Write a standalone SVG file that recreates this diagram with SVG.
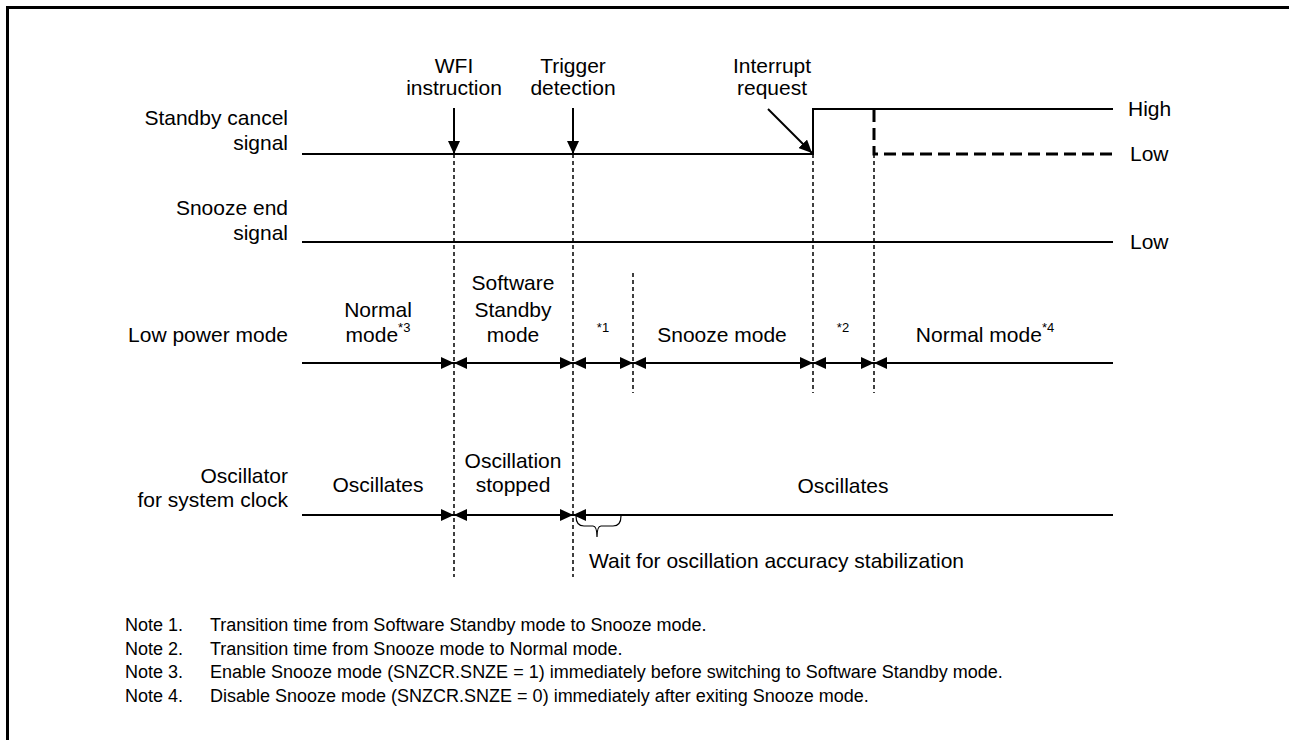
<svg xmlns="http://www.w3.org/2000/svg" width="1289" height="740" viewBox="0 0 1289 740">
<style>
text{font-family:"Liberation Sans",Arial,sans-serif;fill:#000}
.lbl{font-size:21px}
.mid{text-anchor:middle}
.end{text-anchor:end}
.sup{font-size:13px}
.note{font-size:18px}
.sig{stroke:#000;stroke-width:2;fill:none}
.thin{stroke:#000;stroke-width:1.5;stroke-dasharray:4 3;fill:none}
.thick{stroke:#000;stroke-width:3;stroke-dasharray:12 6;fill:none}
.arr{stroke:#000;stroke-width:2;fill:none;marker-start:url(#ah);marker-end:url(#ah)}
.arrE{stroke:#000;stroke-width:2;fill:none;marker-end:url(#ah)}
.arrS{stroke:#000;stroke-width:2;fill:none;marker-start:url(#ah)}
</style>
<defs>
<marker id="ah" markerUnits="userSpaceOnUse" markerWidth="13" markerHeight="12" refX="13" refY="6" orient="auto-start-reverse" viewBox="0 0 13 12">
<path d="M0,0 L13,6 L0,12 z" fill="#000"/>
</marker>
</defs>
<rect width="1289" height="740" fill="#fff"/>
<g id="frame"><path d="M7.5,740 V7.5 H1289" stroke="#000" stroke-width="3" fill="none"/></g>

<g id="labels-left">
<text class="lbl end" x="288" y="125">Standby cancel</text>
<text class="lbl end" x="288" y="150">signal</text>
<text class="lbl end" x="288" y="215">Snooze end</text>
<text class="lbl end" x="288" y="240">signal</text>
<text class="lbl end" x="288" y="342">Low power mode</text>
<text class="lbl end" x="288" y="483">Oscillator</text>
<text class="lbl end" x="288" y="507">for system clock</text>
</g>

<g id="events">
<text class="lbl mid" x="454" y="73">WFI</text>
<text class="lbl mid" x="454" y="95">instruction</text>
<text class="lbl mid" x="573" y="73">Trigger</text>
<text class="lbl mid" x="573" y="95">detection</text>
<text class="lbl mid" x="772" y="73">Interrupt</text>
<text class="lbl mid" x="772" y="95">request</text>
</g>

<g id="connectors">
<line class="arrE" x1="454" y1="108" x2="454" y2="154"/>
<line class="arrE" x1="573" y1="108" x2="573" y2="154"/>
<line class="arrE" x1="768" y1="109" x2="812" y2="153"/>
<!-- dashed guides -->
<line class="thin" x1="454" y1="154" x2="454" y2="577"/>
<line class="thin" x1="573" y1="154" x2="573" y2="577"/>
<line class="thin" x1="633" y1="273" x2="633" y2="393"/>
<line class="thin" x1="813" y1="154" x2="813" y2="393"/>
<line class="thin" x1="874" y1="154" x2="874" y2="393"/>
</g>

<g id="standby-cancel-signal">
<path class="sig" d="M302,154 H813 V109 H1113"/>
<path class="thick" d="M874,110 V154 H1113"/>
<text class="lbl" x="1128" y="116">High</text>
<text class="lbl" x="1130" y="161">Low</text>
</g>

<g id="snooze-end-signal">
<line class="sig" x1="302" y1="242" x2="1113" y2="242"/>
<text class="lbl" x="1130" y="249">Low</text>
</g>

<g id="low-power-mode">
<line class="arrE" x1="302" y1="363" x2="454" y2="363"/>
<line class="arr" x1="454" y1="363" x2="573" y2="363"/>
<line class="arr" x1="573" y1="363" x2="633" y2="363"/>
<line class="arr" x1="633" y1="363" x2="813" y2="363"/>
<line class="arr" x1="813" y1="363" x2="874" y2="363"/>
<line class="arrS" x1="874" y1="363" x2="1113" y2="363"/>
<text class="lbl mid" x="378" y="317">Normal</text>
<text class="lbl mid" x="378" y="342">mode<tspan class="sup" dy="-10">*3</tspan></text>
<text class="lbl mid" x="513" y="290">Software</text>
<text class="lbl mid" x="513" y="317">Standby</text>
<text class="lbl mid" x="513" y="342">mode</text>
<text class="sup mid" x="603" y="332">*1</text>
<text class="lbl mid" x="722" y="342">Snooze mode</text>
<text class="sup mid" x="843" y="332">*2</text>
<text class="lbl mid" x="985" y="342">Normal mode<tspan class="sup" dy="-10">*4</tspan></text>
</g>

<g id="oscillator">
<line class="arrE" x1="302" y1="515" x2="454" y2="515"/>
<line class="arr" x1="454" y1="515" x2="573" y2="515"/>
<line class="arrS" x1="573" y1="515" x2="1113" y2="515"/>
<text class="lbl mid" x="378" y="492">Oscillates</text>
<text class="lbl mid" x="513" y="468">Oscillation</text>
<text class="lbl mid" x="513" y="492">stopped</text>
<text class="lbl mid" x="843" y="493">Oscillates</text>
<path d="M576,516 Q576,526 584,526 H593 Q597,526 597,537 Q597,526 601,526 H613 Q621,526 621,516" stroke="#000" stroke-width="1.2" fill="none"/>
<text class="lbl" x="589" y="568">Wait for oscillation accuracy stabilization</text>
</g>

<g id="notes">
<text class="note" x="125" y="631">Note 1.</text>
<text class="note" x="210" y="631">Transition time from Software Standby mode to Snooze mode.</text>
<text class="note" x="125" y="655">Note 2.</text>
<text class="note" x="210" y="655">Transition time from Snooze mode to Normal mode.</text>
<text class="note" x="125" y="678">Note 3.</text>
<text class="note" x="210" y="678">Enable Snooze mode (SNZCR.SNZE = 1) immediately before switching to Software Standby mode.</text>
<text class="note" x="125" y="702">Note 4.</text>
<text class="note" x="210" y="702">Disable Snooze mode (SNZCR.SNZE = 0) immediately after exiting Snooze mode.</text>
</g>
</svg>
